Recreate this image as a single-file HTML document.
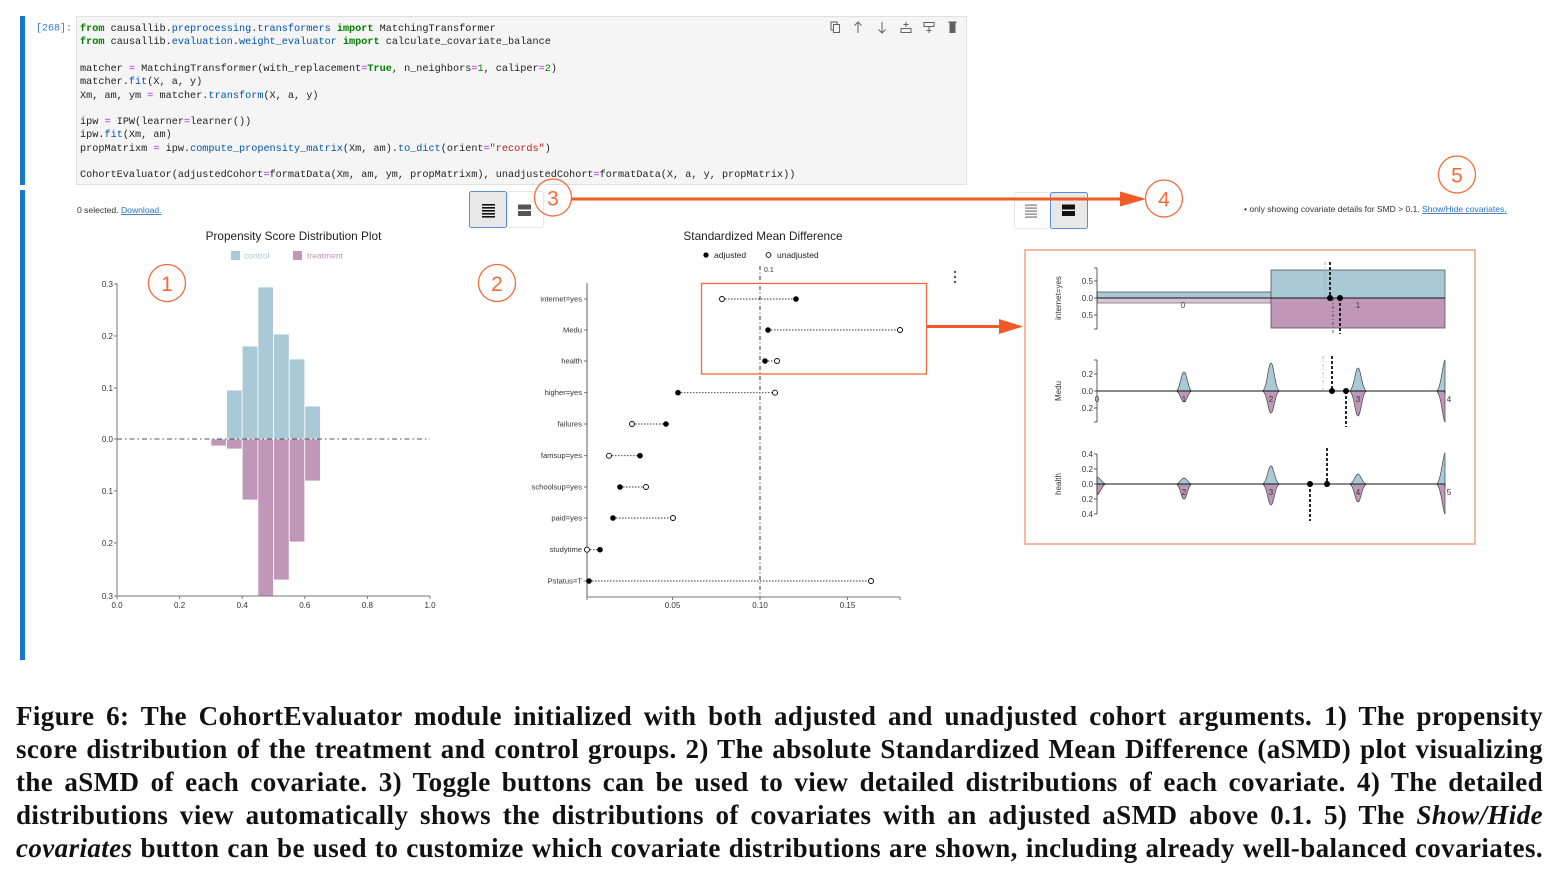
<!DOCTYPE html>
<html><head><meta charset="utf-8">
<style>
html,body{margin:0;padding:0;background:#fff;}
body{width:1556px;height:873px;position:relative;overflow:hidden;font-family:"Liberation Sans",sans-serif;}
.code{position:absolute;left:80px;top:23.2px;margin:0;font-family:"Liberation Mono",monospace;font-size:10.2px;line-height:13.27px;color:#222;white-space:pre;}
.k{color:#008000;font-weight:bold}
.b{color:#0055aa}
.o{color:#aa22ff}
.n{color:#008000}
.s{color:#ba2121}
.cap{position:absolute;left:16px;width:1527px;height:33px;line-height:33px;font-family:"Liberation Serif",serif;font-weight:bold;font-size:27px;letter-spacing:0.4px;color:#111;text-align:justify;text-align-last:justify;white-space:nowrap;}
</style></head><body>
<svg width="1556" height="873" style="position:absolute;left:0;top:0" xmlns="http://www.w3.org/2000/svg" font-family="Liberation Sans, sans-serif">
<!-- code cell -->
<rect x="20" y="16" width="5" height="169" fill="#1976d2"/>
<rect x="20" y="190" width="5" height="470" fill="#1976d2"/>
<rect x="76.5" y="16.5" width="890" height="168" fill="#f5f5f5" stroke="#e0e0e0"/>
<text x="36" y="30.5" font-family="Liberation Mono, monospace" font-size="10" fill="#307fc1">[268]:</text>
<!-- toolbar icons -->
<g fill="none" stroke="#616161" stroke-width="1">
<rect x="831" y="22" width="6" height="8"/><rect x="833.5" y="24.5" width="6" height="8" fill="#f5f5f5"/>
<path d="M858 33 V22 M854.5 25.5 L858 22 L861.5 25.5"/>
<path d="M882 22 V33 M878.5 29.5 L882 33 L885.5 29.5"/>
<path d="M901 32.5 H911 V28.5 H901 Z M906 22 V27 M903.5 24.5 H908.5"/>
<path d="M924 22.5 H934 V26.5 H924 Z M929 27 V33 M926.5 30.5 H931.5"/>
</g>
<rect x="949.5" y="22" width="6" height="11" fill="#616161"/><rect x="948.5" y="21.5" width="8" height="1.5" fill="#616161"/>

<!-- left toggles -->
<rect x="469.5" y="191.5" width="37" height="36" rx="2" fill="#e8e8e8" stroke="#5b8fd0"/>
<rect x="507.5" y="191.5" width="36" height="36" rx="2" fill="#fff" stroke="#e6e6e6"/>
<g fill="#111"><rect x="482" y="204" width="13" height="1.6"/><rect x="482" y="207" width="13" height="1.6"/><rect x="482" y="210" width="13" height="1.6"/><rect x="482" y="213" width="13" height="1.6"/><rect x="482" y="216" width="13" height="1.6"/></g>
<g fill="#555"><rect x="518" y="204.5" width="13" height="5"/><rect x="518" y="211" width="13" height="5"/></g>

<!-- right toggles -->
<rect x="1014.5" y="192.5" width="36" height="36" rx="2" fill="#fff" stroke="#e6e6e6"/>
<rect x="1050.5" y="192.5" width="37" height="36" rx="2" fill="#e8e8e8" stroke="#5b8fd0"/>
<g fill="#777"><rect x="1025" y="204.5" width="12" height="1.2"/><rect x="1025" y="207.5" width="12" height="1.2"/><rect x="1025" y="210.5" width="12" height="1.2"/><rect x="1025" y="213.5" width="12" height="1.2"/><rect x="1025" y="216.5" width="12" height="1.2"/></g>
<g fill="#111"><rect x="1062" y="204.5" width="13" height="5"/><rect x="1062" y="211" width="13" height="5"/></g>

<!-- top texts -->
<text x="77" y="213" font-size="8.6" fill="#333">0 selected. <tspan fill="#2a6ebb" text-decoration="underline">Download.</tspan></text>
<text x="1244" y="212" font-size="8.5" fill="#333">• only showing covariate details for SMD &gt; 0.1. <tspan fill="#2a6ebb" text-decoration="underline">Show/Hide covariates.</tspan></text>

<!-- ============ Propensity plot ============ -->
<text x="293.5" y="240" font-size="11.8" text-anchor="middle" fill="#222">Propensity Score Distribution Plot</text>
<rect x="231" y="251" width="9" height="9" fill="#a8c9d5"/>
<text x="244" y="258.5" font-size="8.5" fill="#a8c9d5">control</text>
<rect x="293" y="251" width="9" height="9" fill="#c197b9"/>
<text x="307" y="258.5" font-size="8.5" fill="#c197b9">treatment</text>

<g stroke="#fff" stroke-width="0.8">
<rect x="226.6" y="390" width="15.6" height="49" fill="#a8c9d5"/>
<rect x="242.2" y="346" width="15.7" height="93" fill="#a8c9d5"/>
<rect x="257.9" y="287" width="15.6" height="152" fill="#a8c9d5"/>
<rect x="273.5" y="334" width="15.7" height="105" fill="#a8c9d5"/>
<rect x="289.2" y="359" width="15.6" height="80" fill="#a8c9d5"/>
<rect x="304.8" y="406" width="15.7" height="33" fill="#a8c9d5"/>
<rect x="210.9" y="439" width="15.7" height="7" fill="#c197b9"/>
<rect x="226.6" y="439" width="15.6" height="10" fill="#c197b9"/>
<rect x="242.2" y="439" width="15.7" height="61" fill="#c197b9"/>
<rect x="257.9" y="439" width="15.6" height="157" fill="#c197b9"/>
<rect x="273.5" y="439" width="15.7" height="141" fill="#c197b9"/>
<rect x="289.2" y="439" width="15.6" height="103" fill="#c197b9"/>
<rect x="304.8" y="439" width="15.7" height="42" fill="#c197b9"/>
</g>
<line x1="117" y1="439" x2="430" y2="439" stroke="#555" stroke-width="1" stroke-dasharray="5,3,1.5,3"/>
<g stroke="#777" stroke-width="1">
<line x1="117" y1="283" x2="117" y2="596"/>
<line x1="117" y1="596" x2="430" y2="596"/>
<line x1="114" y1="284" x2="117" y2="284"/><line x1="114" y1="336" x2="117" y2="336"/><line x1="114" y1="388" x2="117" y2="388"/><line x1="114" y1="439" x2="117" y2="439"/><line x1="114" y1="491" x2="117" y2="491"/><line x1="114" y1="543" x2="117" y2="543"/><line x1="114" y1="596" x2="117" y2="596"/>
<line x1="117" y1="596" x2="117" y2="599"/><line x1="179.6" y1="596" x2="179.6" y2="599"/><line x1="242.2" y1="596" x2="242.2" y2="599"/><line x1="304.8" y1="596" x2="304.8" y2="599"/><line x1="367.4" y1="596" x2="367.4" y2="599"/><line x1="430" y1="596" x2="430" y2="599"/>
</g>
<g font-size="8" fill="#333" text-anchor="end">
<text x="113" y="287">0.3</text><text x="113" y="339">0.2</text><text x="113" y="391">0.1</text><text x="113" y="442">0.0</text><text x="113" y="494">0.1</text><text x="113" y="546">0.2</text><text x="113" y="599">0.3</text>
</g>
<g font-size="8" fill="#333" text-anchor="middle">
<text x="117" y="608">0.0</text><text x="179.6" y="608">0.2</text><text x="242.2" y="608">0.4</text><text x="304.8" y="608">0.6</text><text x="367.4" y="608">0.8</text><text x="430" y="608">1.0</text>
</g>

<!-- ============ SMD plot ============ -->
<text x="763" y="240" font-size="11.8" text-anchor="middle" fill="#222">Standardized Mean Difference</text>
<circle cx="706" cy="255" r="2.6" fill="#000"/>
<text x="714" y="258" font-size="8.5" fill="#222">adjusted</text>
<circle cx="768.5" cy="255" r="2.4" fill="#fff" stroke="#000" stroke-width="0.9"/>
<text x="777" y="258" font-size="8.5" fill="#222">unadjusted</text>
<line x1="760" y1="266" x2="760" y2="597" stroke="#333" stroke-width="1" stroke-dasharray="4,2.5,1,2.5"/>
<text x="764" y="272" font-size="7" fill="#333">0.1</text>
<g fill="#555"><circle cx="955" cy="272" r="1.2"/><circle cx="955" cy="277" r="1.2"/><circle cx="955" cy="282" r="1.2"/></g>
<g stroke="#999" stroke-width="1.6"><line x1="587" y1="283" x2="587" y2="597"/></g>
<g stroke="#777" stroke-width="1">
<line x1="587" y1="597" x2="900" y2="597"/>
<line x1="587" y1="597" x2="587" y2="600"/><line x1="672.5" y1="597" x2="672.5" y2="600"/><line x1="760" y1="597" x2="760" y2="600"/><line x1="847.5" y1="597" x2="847.5" y2="600"/><line x1="900" y1="597" x2="900" y2="600"/>
</g>
<g font-size="8" fill="#333" text-anchor="middle">
<text x="672.5" y="608">0.05</text><text x="760" y="608">0.10</text><text x="847.5" y="608">0.15</text>
</g>
<g font-size="7.6" fill="#333" text-anchor="end">
<text x="582" y="301.5">internet=yes</text>
<text x="582" y="332.5">Medu</text>
<text x="582" y="363.5">health</text>
<text x="582" y="395">higher=yes</text>
<text x="582" y="426.5">failures</text>
<text x="582" y="458">famsup=yes</text>
<text x="582" y="489.5">schoolsup=yes</text>
<text x="582" y="520.5">paid=yes</text>
<text x="582" y="552">studytime</text>
<text x="582" y="583.5">Pstatus=T</text>
</g>
<g stroke="#555" stroke-width="0.8">
<line x1="584" y1="299" x2="587" y2="299"/><line x1="584" y1="330" x2="587" y2="330"/><line x1="584" y1="361" x2="587" y2="361"/><line x1="584" y1="392.7" x2="587" y2="392.7"/><line x1="584" y1="424" x2="587" y2="424"/><line x1="584" y1="455.7" x2="587" y2="455.7"/><line x1="584" y1="487" x2="587" y2="487"/><line x1="584" y1="518" x2="587" y2="518"/><line x1="584" y1="549.7" x2="587" y2="549.7"/><line x1="584" y1="581" x2="587" y2="581"/>
</g>
<g stroke="#333" stroke-width="0.9" stroke-dasharray="1.5,1.5">
<line x1="722" y1="299" x2="796" y2="299"/>
<line x1="768" y1="330" x2="900" y2="330"/>
<line x1="765" y1="361" x2="777" y2="361"/>
<line x1="678" y1="392.7" x2="775" y2="392.7"/>
<line x1="632" y1="424" x2="666" y2="424"/>
<line x1="609" y1="455.7" x2="640" y2="455.7"/>
<line x1="620" y1="487" x2="646" y2="487"/>
<line x1="613" y1="518" x2="673" y2="518"/>
<line x1="587" y1="549.7" x2="600" y2="549.7"/>
<line x1="589" y1="581" x2="871" y2="581"/>
</g>
<g fill="#000">
<circle cx="796" cy="299" r="2.8"/><circle cx="768" cy="330" r="2.8"/><circle cx="765" cy="361" r="2.8"/><circle cx="678" cy="392.7" r="2.8"/><circle cx="666" cy="424" r="2.8"/><circle cx="640" cy="455.7" r="2.8"/><circle cx="620" cy="487" r="2.8"/><circle cx="613" cy="518" r="2.8"/><circle cx="600" cy="549.7" r="2.8"/><circle cx="589" cy="581" r="2.8"/>
</g>
<g fill="#fff" stroke="#000" stroke-width="0.9">
<circle cx="722" cy="299" r="2.5"/><circle cx="900" cy="330" r="2.5"/><circle cx="777" cy="361" r="2.5"/><circle cx="775" cy="392.7" r="2.5"/><circle cx="632" cy="424" r="2.5"/><circle cx="609" cy="455.7" r="2.5"/><circle cx="646" cy="487" r="2.5"/><circle cx="673" cy="518" r="2.5"/><circle cx="587" cy="549.7" r="2.5"/><circle cx="871" cy="581" r="2.5"/>
</g>
<rect x="701.5" y="283.5" width="225" height="90.5" fill="none" stroke="#f26b3a" stroke-width="1.3"/>

<!-- ============ Right detail panel ============ -->
<rect x="1025" y="250" width="450" height="294" fill="none" stroke="#f4a184" stroke-width="1.5"/>
<!-- chart 1 internet=yes -->
<text transform="translate(1061,298) rotate(-90)" font-size="8" text-anchor="middle" fill="#333">internet=yes</text>
<rect x="1097" y="292" width="174" height="6" fill="#a8c9d5" stroke="#555" stroke-width="0.8"/>
<rect x="1097" y="298" width="174" height="5" fill="#dcc2d8" stroke="#777" stroke-width="0.8"/>
<rect x="1271" y="270" width="174" height="28" fill="#a8c9d5" stroke="#555" stroke-width="0.8"/>
<rect x="1271" y="298" width="174" height="30" fill="#c197b9" stroke="#555" stroke-width="0.8"/>
<line x1="1097" y1="298" x2="1445" y2="298" stroke="#111" stroke-width="1"/>
<line x1="1097" y1="268" x2="1097" y2="329" stroke="#333" stroke-width="0.8"/>
<g stroke="#333" stroke-width="0.8"><line x1="1094" y1="281" x2="1097" y2="281"/><line x1="1094" y1="298" x2="1097" y2="298"/><line x1="1094" y1="315" x2="1097" y2="315"/><line x1="1094" y1="268" x2="1097" y2="268"/><line x1="1094" y1="329" x2="1097" y2="329"/></g>
<g font-size="8" fill="#333" text-anchor="end"><text x="1093" y="284">0.5</text><text x="1093" y="301">0.0</text><text x="1093" y="318">0.5</text></g>
<g font-size="8" fill="#444" text-anchor="middle"><text x="1183" y="308">0</text><text x="1358" y="308">1</text></g>
<line x1="1325" y1="262" x2="1325" y2="298" stroke="#999" stroke-width="0.8" stroke-dasharray="3,2,1,2"/>
<line x1="1330" y1="262" x2="1330" y2="298" stroke="#111" stroke-width="1.8" stroke-dasharray="3,2"/>
<line x1="1333" y1="298" x2="1333" y2="334" stroke="#333" stroke-width="0.8" stroke-dasharray="3,2,1,2"/>
<line x1="1340" y1="298" x2="1340" y2="334" stroke="#111" stroke-width="1.8" stroke-dasharray="3,2"/>
<circle cx="1330" cy="298" r="3" fill="#000"/><circle cx="1340" cy="298" r="3" fill="#000"/>

<!-- chart 2 Medu -->
<text transform="translate(1061,391) rotate(-90)" font-size="8" text-anchor="middle" fill="#333">Medu</text>
<g stroke="#444" stroke-width="0.7">
<path d="M1176 391 C1180 391 1181 372 1184 372 C1187 372 1188 391 1192 391 Z" fill="#a8c9d5"/>
<path d="M1176 391 C1180 391 1181 402 1184 402 C1187 402 1188 391 1192 391 Z" fill="#c197b9"/>
<path d="M1262 391 C1267 391 1268 363 1271 363 C1274 363 1275 391 1280 391 Z" fill="#a8c9d5"/>
<path d="M1262 391 C1267 391 1268 413 1271 413 C1274 413 1275 391 1280 391 Z" fill="#c197b9"/>
<path d="M1349 391 C1354 391 1355 368 1358 368 C1361 368 1362 391 1367 391 Z" fill="#a8c9d5"/>
<path d="M1349 391 C1354 391 1355 416 1358 416 C1361 416 1362 391 1367 391 Z" fill="#c197b9"/>
<path d="M1436 391 C1441 391 1443 360 1445 360 L1445 391 Z" fill="#a8c9d5"/>
<path d="M1436 391 C1441 391 1443 422 1445 422 L1445 391 Z" fill="#c197b9"/>
</g>
<line x1="1097" y1="391" x2="1445" y2="391" stroke="#111" stroke-width="1"/>
<line x1="1097" y1="360" x2="1097" y2="422" stroke="#333" stroke-width="0.8"/>
<g stroke="#333" stroke-width="0.8"><line x1="1094" y1="374" x2="1097" y2="374"/><line x1="1094" y1="391" x2="1097" y2="391"/><line x1="1094" y1="408" x2="1097" y2="408"/><line x1="1094" y1="360" x2="1097" y2="360"/><line x1="1094" y1="422" x2="1097" y2="422"/><line x1="1445" y1="391" x2="1445" y2="394"/></g>
<g font-size="8" fill="#333" text-anchor="end"><text x="1093" y="377">0.2</text><text x="1093" y="394">0.0</text><text x="1093" y="411">0.2</text></g>
<g font-size="8" fill="#333" text-anchor="middle"><text x="1097" y="402">0</text><text x="1184" y="402">1</text><text x="1271" y="402">2</text><text x="1358" y="402">3</text><text x="1449" y="402">4</text></g>
<line x1="1323" y1="356" x2="1323" y2="391" stroke="#aaa" stroke-width="0.8" stroke-dasharray="3,2,1,2"/>
<line x1="1332" y1="356" x2="1332" y2="391" stroke="#111" stroke-width="1.8" stroke-dasharray="3,2"/>
<line x1="1346" y1="391" x2="1346" y2="427" stroke="#111" stroke-width="1.8" stroke-dasharray="3,2"/>
<circle cx="1332" cy="391" r="3" fill="#000"/><circle cx="1346" cy="391" r="3" fill="#000"/>

<!-- chart 3 health -->
<text transform="translate(1061,484) rotate(-90)" font-size="8" text-anchor="middle" fill="#333">health</text>
<g stroke="#444" stroke-width="0.7">
<path d="M1097 484 L1097 477 C1100 477 1102 484 1106 484 Z" fill="#a8c9d5"/>
<path d="M1097 484 L1097 495 C1100 495 1102 484 1106 484 Z" fill="#c197b9"/>
<path d="M1176 484 C1180 484 1181 478 1184 478 C1187 478 1188 484 1192 484 Z" fill="#a8c9d5"/>
<path d="M1176 484 C1180 484 1181 499 1184 499 C1187 499 1188 484 1192 484 Z" fill="#c197b9"/>
<path d="M1262 484 C1267 484 1268 466 1271 466 C1274 466 1275 484 1280 484 Z" fill="#a8c9d5"/>
<path d="M1262 484 C1267 484 1268 505 1271 505 C1274 505 1275 484 1280 484 Z" fill="#c197b9"/>
<path d="M1349 484 C1354 484 1355 474 1358 474 C1361 474 1362 484 1367 484 Z" fill="#a8c9d5"/>
<path d="M1349 484 C1354 484 1355 502 1358 502 C1361 502 1362 484 1367 484 Z" fill="#c197b9"/>
<path d="M1436 484 C1441 484 1443 453 1445 453 L1445 484 Z" fill="#a8c9d5"/>
<path d="M1436 484 C1441 484 1443 514 1445 514 L1445 484 Z" fill="#c197b9"/>
</g>
<line x1="1097" y1="484" x2="1445" y2="484" stroke="#111" stroke-width="1"/>
<line x1="1097" y1="454" x2="1097" y2="514" stroke="#333" stroke-width="0.8"/>
<g stroke="#333" stroke-width="0.8"><line x1="1094" y1="454" x2="1097" y2="454"/><line x1="1094" y1="469" x2="1097" y2="469"/><line x1="1094" y1="484" x2="1097" y2="484"/><line x1="1094" y1="499" x2="1097" y2="499"/><line x1="1094" y1="514" x2="1097" y2="514"/><line x1="1445" y1="484" x2="1445" y2="487"/></g>
<g font-size="8" fill="#333" text-anchor="end"><text x="1093" y="457">0.4</text><text x="1093" y="472">0.2</text><text x="1093" y="487">0.0</text><text x="1093" y="502">0.2</text><text x="1093" y="517">0.4</text></g>
<g font-size="8" fill="#333" text-anchor="middle"><text x="1184" y="495">2</text><text x="1271" y="495">3</text><text x="1358" y="495">4</text><text x="1449" y="495">5</text></g>
<line x1="1327" y1="448" x2="1327" y2="484" stroke="#111" stroke-width="1.8" stroke-dasharray="3,2"/>
<line x1="1310" y1="484" x2="1310" y2="521" stroke="#111" stroke-width="1.8" stroke-dasharray="3,2"/>
<circle cx="1327" cy="484" r="3" fill="#000"/><circle cx="1310" cy="484" r="3" fill="#000"/>

<!-- ============ annotations ============ -->
<g fill="none" stroke="#f26b3a" stroke-width="1.3">
<circle cx="167" cy="283" r="18.5"/>
<circle cx="497" cy="283" r="18.5"/>
<circle cx="553" cy="197.5" r="18.5"/>
<circle cx="1164" cy="198.5" r="18.5"/>
<circle cx="1457" cy="174.5" r="18.5"/>
</g>
<g font-size="21" fill="#f26b3a" text-anchor="middle" font-family="Liberation Sans, sans-serif">
<text x="167" y="291">1</text>
<text x="497" y="291">2</text>
<text x="553" y="205.5">3</text>
<text x="1164" y="206.5">4</text>
<text x="1457" y="182.5">5</text>
</g>
<line x1="571.5" y1="199" x2="1125" y2="199" stroke="#f15a24" stroke-width="3"/>
<polygon points="1120,191.5 1146,199 1120,206.5" fill="#f15a24"/>
<line x1="927" y1="326.5" x2="1004" y2="326.5" stroke="#f15a24" stroke-width="3"/>
<polygon points="999,319 1023,326.5 999,334" fill="#f15a24"/>
</svg>

<pre class="code"><span class="k">from</span> causallib.<span class="b">preprocessing</span>.<span class="b">transformers</span> <span class="k">import</span> MatchingTransformer
<span class="k">from</span> causallib.<span class="b">evaluation</span>.<span class="b">weight_evaluator</span> <span class="k">import</span> calculate_covariate_balance

matcher <span class="o">=</span> MatchingTransformer(with_replacement<span class="o">=</span><span class="k">True</span>, n_neighbors<span class="o">=</span><span class="n">1</span>, caliper<span class="o">=</span><span class="n">2</span>)
matcher.<span class="b">fit</span>(X, a, y)
Xm, am, ym <span class="o">=</span> matcher.<span class="b">transform</span>(X, a, y)

ipw <span class="o">=</span> IPW(learner<span class="o">=</span>learner())
ipw.<span class="b">fit</span>(Xm, am)
propMatrixm <span class="o">=</span> ipw.<span class="b">compute_propensity_matrix</span>(Xm, am).<span class="b">to_dict</span>(orient<span class="o">=</span><span class="s">"records"</span>)

CohortEvaluator(adjustedCohort<span class="o">=</span>formatData(Xm, am, ym, propMatrixm), unadjustedCohort<span class="o">=</span>formatData(X, a, y, propMatrix))</pre>

<div class="cap" style="top:700px">Figure 6: The CohortEvaluator module initialized with both adjusted and unadjusted cohort arguments. 1) The propensity</div>
<div class="cap" style="top:733px">score distribution of the treatment and control groups. 2) The absolute Standardized Mean Difference (aSMD) plot visualizing</div>
<div class="cap" style="top:766px">the aSMD of each covariate. 3) Toggle buttons can be used to view detailed distributions of each covariate. 4) The detailed</div>
<div class="cap" style="top:799px">distributions view automatically shows the distributions of covariates with an adjusted aSMD above 0.1. 5) The <i>Show/Hide</i></div>
<div class="cap" style="top:832px"><i>covariates</i> button can be used to customize which covariate distributions are shown, including already well-balanced covariates.</div>
</body></html>
